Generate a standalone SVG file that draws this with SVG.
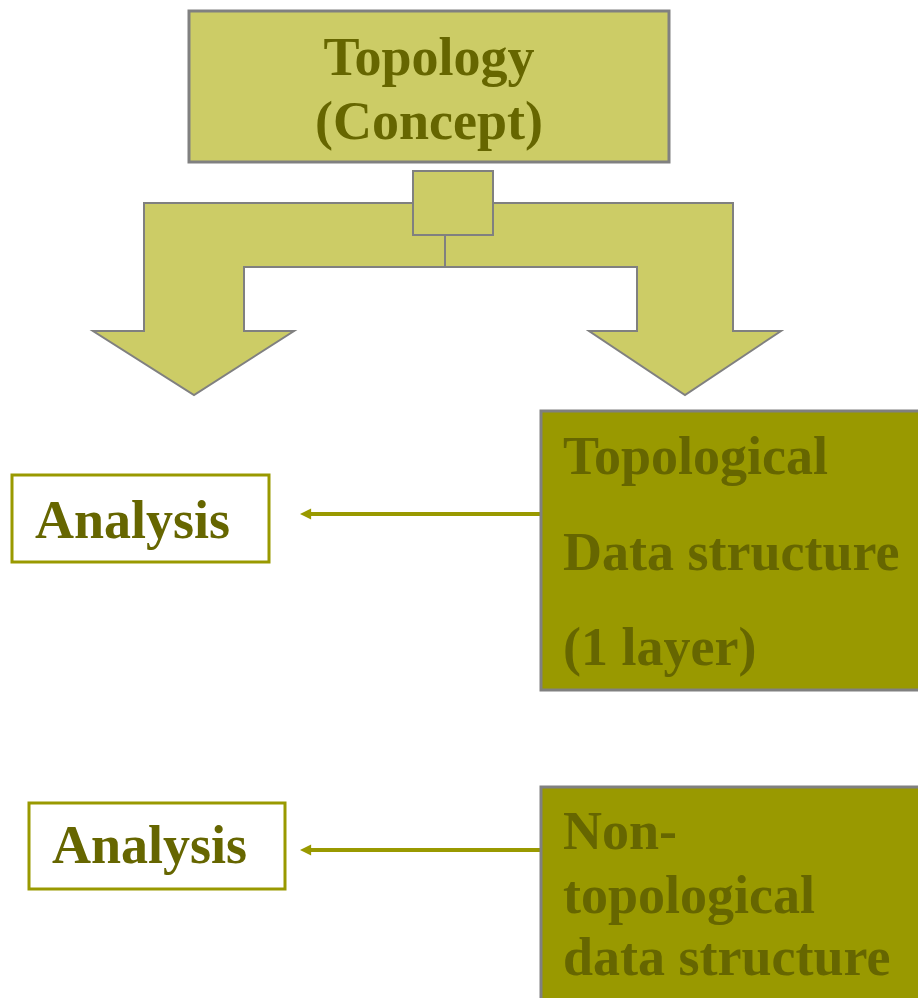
<svg xmlns="http://www.w3.org/2000/svg" width="918" height="998" viewBox="0 0 918 998">
<defs>
<style>
.t{font-family:"Liberation Serif","Times New Roman",serif;font-weight:bold;font-size:54px;fill:#666600}
.g{stroke:#808080;stroke-width:3}
.olive{fill:#999900}
.conn{stroke:#999900;stroke-width:4;fill:none}
.abox{fill:#ffffff;stroke:#999900;stroke-width:3}
</style>
<marker id="ah" viewBox="0 0 10 10" refX="1" refY="5" markerWidth="3" markerHeight="2.8" orient="auto-start-reverse" markerUnits="strokeWidth">
<path d="M0,0 L10,5 L0,10 Z" fill="#999900"/>
</marker>
</defs>
<rect width="918" height="998" fill="#ffffff"/>

<g id="concept">
<rect x="189" y="11" width="480" height="151" fill="#cccc66" class="g"/>
<text class="t" x="429" y="75" text-anchor="middle">Topology</text>
<text class="t" x="429" y="139" text-anchor="middle">(Concept)</text>
</g>

<g id="split-arrow">
<path d="M144,203 H733 V331 H781 L685,395 L589,331 H637 V267 H244 V331 H294 L194,395 L93,331 H144 Z" fill="#cccc66" stroke="#808080" stroke-width="2"/>
<rect x="413" y="171" width="80" height="64" fill="#cccc66" stroke="#808080" stroke-width="2"/>
<line x1="445" y1="235" x2="445" y2="267" stroke="#808080" stroke-width="2"/>
</g>

<g id="connectors">
<line class="conn" x1="540" y1="514" x2="310" y2="514" marker-end="url(#ah)"/>
<line class="conn" x1="540" y1="850" x2="310" y2="850" marker-end="url(#ah)"/>
</g>

<g id="topological">
<rect x="541" y="411" width="390" height="279" class="olive g"/>
<text class="t" x="563" y="474">Topological</text>
<text class="t" x="563" y="570">Data structure</text>
<text class="t" x="563" y="665">(1 layer)</text>
</g>

<g id="analysis1">
<rect x="12" y="475" width="257" height="87" class="abox"/>
<text class="t" x="35" y="538">Analysis</text>
</g>

<g id="nontopological">
<rect x="541" y="787" width="390" height="230" class="olive g"/>
<text class="t" x="563" y="849">Non-</text>
<text class="t" x="563" y="913">topological</text>
<text class="t" x="563" y="975">data structure</text>
</g>

<g id="analysis2">
<rect x="29" y="803" width="256" height="86" class="abox"/>
<text class="t" x="52" y="863">Analysis</text>
</g>
</svg>
